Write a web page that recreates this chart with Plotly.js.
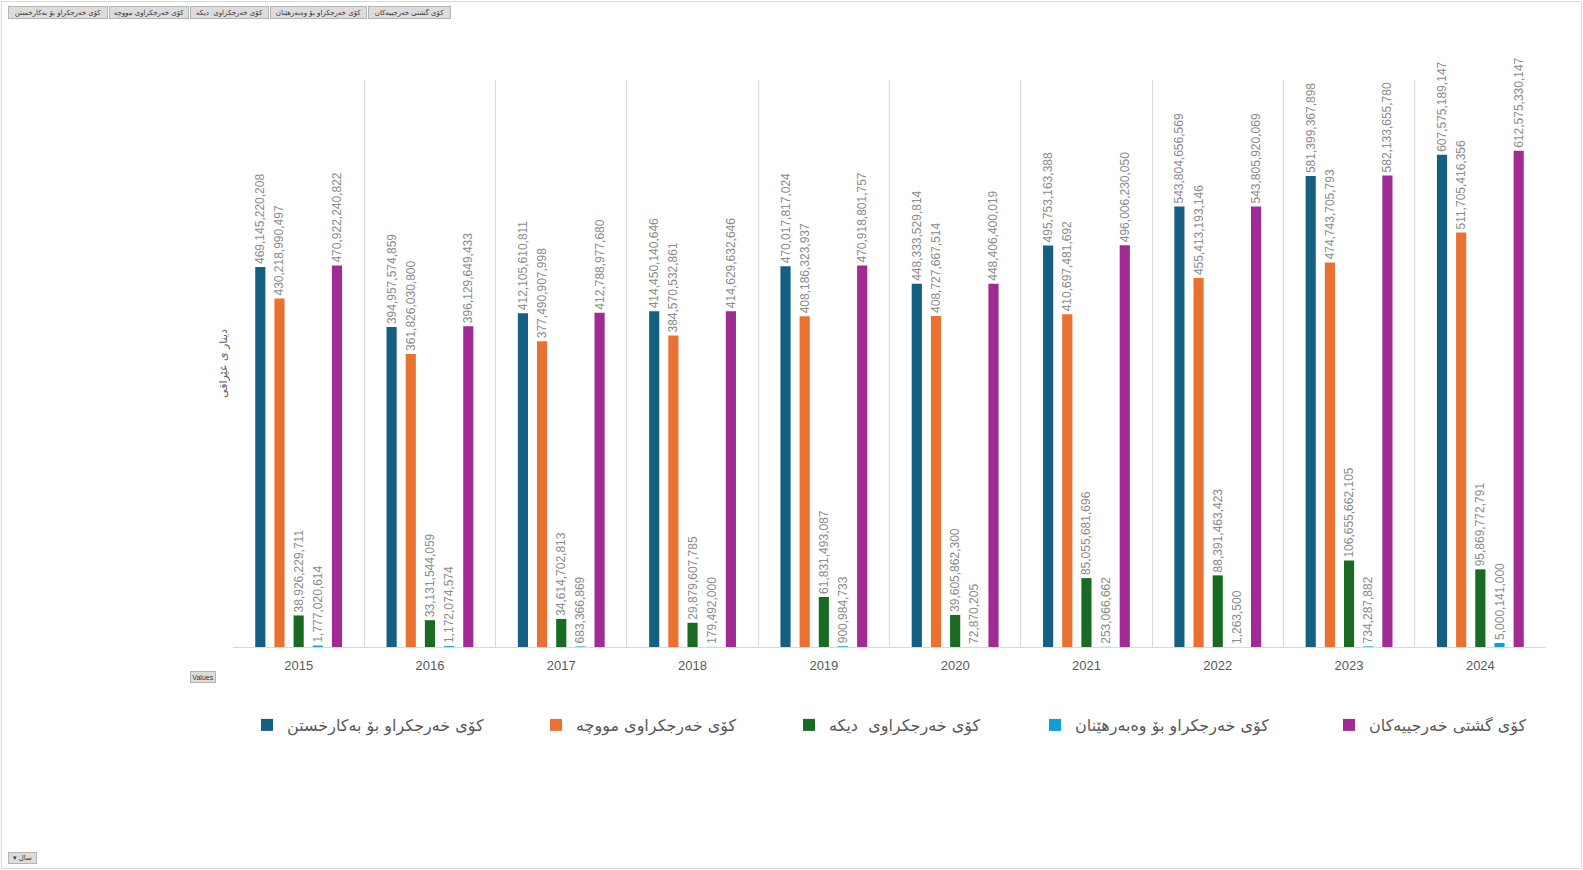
<!DOCTYPE html>
<html>
<head>
<meta charset="utf-8">
<script src="https://cdn.plot.ly/plotly-3.0.1.min.js"></script>
<style>
  html, body { margin: 0; padding: 0; background: #ffffff; }
  #chart { width: 1583px; height: 870px; }
</style>
</head>
<body>
<div id="chart"></div>
<script>
// ---- data ----
const years = ['2015', '2016', '2017', '2018', '2019', '2020', '2021', '2022', '2023', '2024'];

const seriesNames = [
  'کۆی خەرجکراو بۆ بەکارخستن',
  'کۆی خەرجکراوی مووچە',
  'کۆی خەرجکراوی  دیکە',
  'کۆی خەرجکراو بۆ وەبەرهێنان',
  'کۆی گشتی خەرجییەکان'
];

const operational = [469145220208, 394957574859, 412105610811, 414450140646, 470017817024, 448333529814, 495753163388, 543804656569, 581399367898, 607575189147];
const salaries    = [430218990497, 361826030800, 377490907998, 384570532861, 408186323937, 408727667514, 410697481692, 455413193146, 474743705793, 511705416356];
const other       = [38926229711, 33131544059, 34614702813, 29879607785, 61831493087, 39605862300, 85055681696, 88391463423, 106655662105, 95869772791];
const investment  = [1777020614, 1172074574, 683366869, 179492000, 900984733, 72870205, 253066662, 1263500, 734287882, 5000141000];
const totalSpend  = [470922240822, 396129649433, 412788977680, 414629632646, 470918801757, 448406400019, 496006230050, 543805920069, 582133655780, 612575330147];

const yTitle = 'دینار ی عێراقی';
const fieldButtons = [
  'کۆی خەرجکراو بۆ بەکارخستن',
  'کۆی خەرجکراوی مووچە',
  'کۆی خەرجکراوی  دیکە',
  'کۆی خەرجکراو بۆ وەبەرهێنان',
  'کۆی گشتی خەرجییەکان'
];

// ---- styling ----
const colors = ['#156082', '#E97132', '#196B24', '#0F9ED5', '#A02B93'];
const allSeries = [operational, salaries, other, investment, totalSpend];

const W = 1583, H = 870;
const M = { l: 233, r: 37, t: 80, b: 223 };
const PW = W - M.l - M.r, PH = H - M.t - M.b;
const px2x = px => (px - M.l) / PW;
const py2y = py => (M.t + PH - py) / PH;

const legendIds = ['legend', 'legend2', 'legend3', 'legend4', 'legend5'];
const legendPx = [247, 536, 789, 1035, 1329];

const traces = allSeries.map((vals, i) => ({
  type: 'bar',
  name: seriesNames[i],
  legend: legendIds[i],
  x: years,
  y: vals,
  marker: { color: colors[i], line: { width: 0 } },
  texttemplate: '%{y:,}',
  textposition: 'outside',
  textangle: -90,
  constraintext: 'none',
  cliponaxis: false,
  textfont: { family: 'Liberation Sans, Arial, sans-serif', size: 12, color: '#8c8c8c' },
  hoverinfo: 'x+y+name'
}));

// field buttons (top-left)
const btnBoxes = [[8, 108], [109, 189], [190, 269], [270, 367], [368, 451]];
const annotations = btnBoxes.map((b, i) => ({
  xref: 'paper', yref: 'paper',
  x: px2x(b[0]), y: py2y(6),
  xanchor: 'left', yanchor: 'top',
  width: b[1] - b[0] - 4, height: 9,
  text: fieldButtons[i],
  showarrow: false,
  font: { size: 7, color: '#333333', family: 'DejaVu Sans, sans-serif' },
  bgcolor: '#dcdcdc', bordercolor: '#b4b4b4', borderwidth: 1, borderpad: 1
}));
annotations.push({
  xref: 'paper', yref: 'paper',
  x: px2x(190), y: py2y(671),
  xanchor: 'left', yanchor: 'top',
  width: 22, height: 8,
  text: 'Values', showarrow: false,
  font: { size: 7, color: '#333333', family: 'Liberation Sans, Arial, sans-serif' },
  bgcolor: '#dcdcdc', bordercolor: '#b4b4b4', borderwidth: 1, borderpad: 1
});
annotations.push({
  xref: 'paper', yref: 'paper',
  x: px2x(8), y: py2y(852),
  xanchor: 'left', yanchor: 'top',
  width: 25, height: 8,
  text: '▾ سال', showarrow: false,
  font: { size: 7, color: '#333333', family: 'DejaVu Sans, sans-serif' },
  bgcolor: '#dcdcdc', bordercolor: '#b4b4b4', borderwidth: 1, borderpad: 1
});

const layout = {
  width: W, height: H,
  margin: M,
  paper_bgcolor: '#ffffff',
  plot_bgcolor: '#ffffff',
  barmode: 'group',
  bargap: 0.27,
  bargroupgap: 0.47,
  showlegend: true,
  xaxis: {
    type: 'category',
    tickson: 'boundaries',
    showgrid: true,
    gridcolor: '#d9d9d9',
    gridwidth: 1,
    showline: true,
    linecolor: '#d9d9d9',
    ticks: '',
    ticklabelstandoff: 6,
    tickfont: { size: 13, color: '#595959', family: 'Liberation Sans, Arial, sans-serif' },
    automargin: false,
    fixedrange: true
  },
  yaxis: {
    range: [0, 700e9],
    showgrid: false,
    zeroline: false,
    showline: false,
    showticklabels: false,
    ticks: '',
    title: { text: yTitle, font: { size: 11, color: '#595959', family: 'DejaVu Sans, sans-serif' }, standoff: 2 },
    automargin: false,
    fixedrange: true
  },
  annotations: annotations,
  shapes: [{
    type: 'rect', xref: 'paper', yref: 'paper',
    x0: px2x(1.5), x1: px2x(1581.5), y0: py2y(868.5), y1: py2y(1.5),
    line: { color: '#d9d9d9', width: 1 }, fillcolor: 'rgba(0,0,0,0)'
  }]
};

legendIds.forEach((id, i) => {
  layout[id] = {
    orientation: 'h',
    x: px2x(legendPx[i]), y: py2y(708),
    xanchor: 'left', yanchor: 'top',
    bgcolor: 'rgba(0,0,0,0)',
    font: { size: 16, color: '#595959', family: 'DejaVu Sans, sans-serif' }
  };
});

Plotly.newPlot('chart', traces, layout, { displayModeBar: false, staticPlot: true });
</script>
</body>
</html>
